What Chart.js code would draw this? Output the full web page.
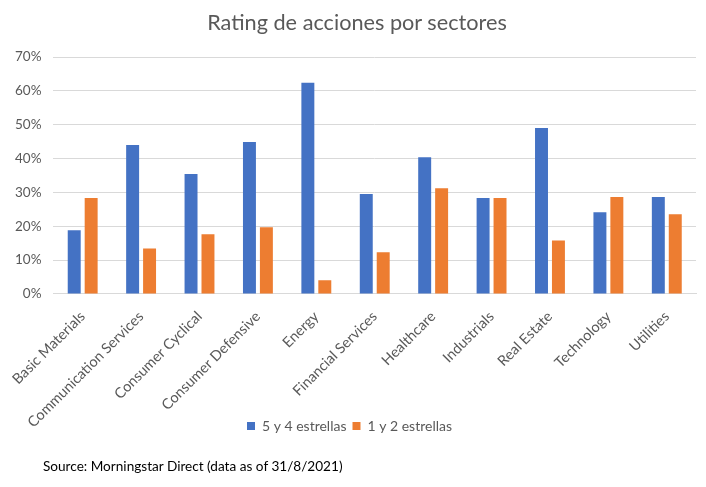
<!DOCTYPE html>
<html>
<head>
<meta charset="utf-8">
<script src="https://cdn.jsdelivr.net/npm/chart.js@4"></script>
<style>
html,body{margin:0;padding:0;background:#fff;}
#wrap{position:relative;width:706px;height:487px;}
#ttl{position:absolute;left:0;top:8px;width:706px;padding-left:8px;box-sizing:border-box;text-align:center;font-family:Lato,"Open Sans",sans-serif;font-size:21.7px;line-height:28px;color:#595959;}
#src{position:absolute;left:43px;top:458px;font-family:Lato,"Open Sans",sans-serif;font-size:13.6px;color:#000;}
</style>
</head>
<body>
<div id="wrap">
<canvas id="c" width="706" height="487"></canvas>
<div id="ttl">Rating de acciones por sectores</div>
<div id="src">Source: Morningstar Direct (data as of 31/8/2021)</div>
</div>
<script>
const categories = ["Basic Materials","Communication Services","Consumer Cyclical","Consumer Defensive","Energy","Financial Services","Healthcare","Industrials","Real Estate","Technology","Utilities"];
const series1Name = "5 y 4 estrellas";
const series2Name = "1 y 2 estrellas";
const series1 = [18.8, 44.0, 35.4, 44.9, 62.4, 29.5, 40.4, 28.3, 49.0, 24.1, 28.6];
const series2 = [28.3, 13.4, 17.6, 19.7, 4.0, 12.3, 31.2, 28.3, 15.8, 28.6, 23.5];
const yTicks = [0,10,20,30,40,50,60,70];

const font = "Lato, 'Open Sans', sans-serif";
const unclipLabels = {
  id: 'unclipLabels',
  afterLayout(chart) { chart.scales.x.bottom += 30; }
};
new Chart(document.getElementById('c'), {
  type: 'bar',
  data: {
    labels: categories,
    datasets: [
      {label: series1Name, data: series1, backgroundColor: '#4472C4', categoryPercentage: 0.58, barPercentage: 0.765},
      {label: series2Name, data: series2, backgroundColor: '#ED7D31', categoryPercentage: 0.58, barPercentage: 0.765}
    ]
  },
  plugins: [unclipLabels],
  options: {
    responsive: false,
    animation: false,
    layout: {padding: {left: 3, right: 10, top: 57, bottom: 44}},
    plugins: {
      title: {display: false},
      legend: {position: 'bottom', labels: {color: '#595959', boxWidth: 8, boxHeight: 8,
        font: {family: font, size: 14}, padding: 6}},
      tooltip: {enabled: false}
    },
    scales: {
      x: {
        grid: {display: false},
        border: {color: '#d9d9d9'},
        afterFit: (s) => { s.height -= 24; },
        ticks: {color: '#595959', font: {family: font, size: 14.5}, minRotation: 45, maxRotation: 45, padding: 6}
      },
      y: {
        min: 0, max: 70,
        afterBuildTicks: (ax) => { ax.ticks = yTicks.map(v => ({value: v})); },
        grid: {color: '#d9d9d9', drawTicks: false},
        border: {display: false},
        ticks: {color: '#595959', font: {family: font, size: 13.5}, padding: 12, callback: v => v + '%'}
      }
    }
  }
});
</script>
</body>
</html>
